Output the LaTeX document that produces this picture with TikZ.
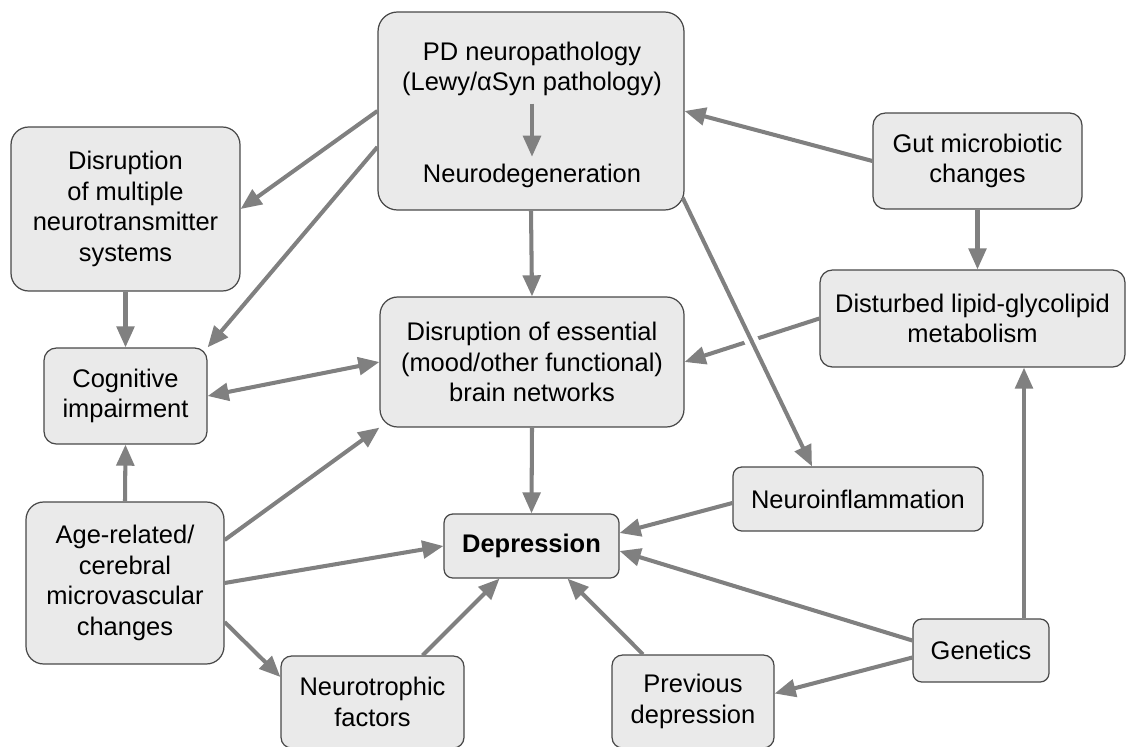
\documentclass[tikz,border=0pt]{standalone}
\usepackage{fontspec}
\setmainfont{Liberation Sans}
\usetikzlibrary{arrows.meta,calc}
\definecolor{linkgray}{RGB}{128,128,128}
\definecolor{boxfill}{RGB}{234,234,234}
\definecolor{boxline}{RGB}{72,72,72}
\begin{document}
\begin{tikzpicture}[x=0.02cm,y=-0.02cm,
	block/.style={draw=boxline,fill=boxfill,line width=0.7pt,rounded corners=#1,align=center,inner sep=0pt},
	block/.default=6pt,
	txt/.style={align=center,inner sep=4pt},
	link/.style={draw=linkgray,line width=2.3pt,-{Triangle[length=12pt,width=10pt]}},
	font=\fontsize{14.5}{17.5}\selectfont]
	\useasboundingbox (0,0) rectangle (1126,747);
	\node[block=11pt,minimum width=6.12cm,minimum height=3.96cm] (pd) at (531,111) {};
	\node[txt] (pdtop) at (532,69) {PD neuropathology\\(Lewy/αSyn pathology)};
	\node[txt] (neurodeg) at (532,176) {Neurodegeneration};
	\node[block=10pt,minimum width=4.58cm,minimum height=3.28cm] (multi) at (125.5,209) {Disruption\\of multiple\\neurotransmitter\\systems};
	\node[block=7pt,minimum width=3.26cm,minimum height=1.92cm] (cog) at (125.5,396) {Cognitive\\impairment};
	\node[block=10pt,minimum width=6.08cm,minimum height=2.6cm] (essen) at (532,362) {Disruption of essential\\(mood/other functional)\\brain networks};
	\node[block=7pt,minimum width=4.18cm,minimum height=1.92cm] (gut) at (977.5,161) {Gut microbiotic\\changes};
	\node[block=7pt,minimum width=6.10cm,minimum height=1.94cm] (lipid) at (972.5,318.5) {Disturbed lipid-glycolipid\\metabolism};
	\node[block=5pt,minimum width=5cm,minimum height=1.28cm] (inflam) at (858,499) {Neuroinflammation};
	\node[block=5pt,minimum width=3.5cm,minimum height=1.28cm] (dep) at (531.5,546) {\bfseries Depression};
	\node[block=10pt,minimum width=3.96cm,minimum height=3.24cm] (age) at (125,583) {Age-related/\\cerebral\\microvascular\\changes};
	\node[block=6pt,minimum width=3.66cm,minimum height=1.84cm] (neuro) at (372.5,702) {Neurotrophic\\factors};
	\node[block=6pt,minimum width=3.24cm,minimum height=1.86cm] (prev) at (693,701.5) {Previous\\depression};
	\node[block=5pt,minimum width=2.72cm,minimum height=1.26cm] (gen) at (981,650.5) {Genetics};

	\draw[link] (pdtop.south) -- (neurodeg.north);
	\draw[link] (pd.west) -- (multi.east);
	\draw[link] ($(pd.west)+(0,36)$) -- (cog.north east);
	\draw[link] (pd.south) -- (essen.north);
	\draw[link] (gut.west) -- (pd.east);
	\draw[link] (gut.south) -- (gut.south |- lipid.north);
	\draw[link] (lipid.west) -- (essen.east);
	\coordinate (p1) at ($(pd.south east)+(-2,-13)$);
	\coordinate (p2) at ($(inflam.north)+(-46,0)$);
	\draw[white,line width=8pt] ($(p1)!0.49!(p2)$) -- ($(p1)!0.575!(p2)$);
	\draw[link] (p1) -- (p2);
	\draw[link] (multi.south) -- (cog.north);
	\draw[link,{Triangle[length=12pt,width=10pt]}-{Triangle[length=12pt,width=10pt]}] (cog.east) -- (essen.west);
	\draw[link] (age.north) -- (cog.south);
	\draw[link] ($(age.east)+(0,-43)$) -- (essen.south west);
	\draw[link] (age.east) -- (dep.west);
	\draw[link] ($(age.east)+(0,39)$) -- ($(neuro.west)+(0,-25)$);
	\draw[link] ($(neuro.north)+(50,0)$) -- ($(dep.south)+(-32,0)$);
	\draw[link] ($(prev.north)+(-50,0)$) -- ($(dep.south)+(36,0)$);
	\draw[link] (essen.south) -- (dep.north);
	\draw[link] ($(inflam.west)+(0,4)$) -- ($(dep.east)+(0,-13)$);
	\draw[link] ($(gen.west)+(0,-10)$) -- ($(dep.east)+(0,5)$);
	\draw[link] ($(gen.west)+(0,7)$) -- ($(prev.east)+(0,-8)$);
	\draw[link] ($(gen.north)+(43,0)$) coordinate (g1) -- (g1 |- lipid.south);
\end{tikzpicture}
\end{document}
